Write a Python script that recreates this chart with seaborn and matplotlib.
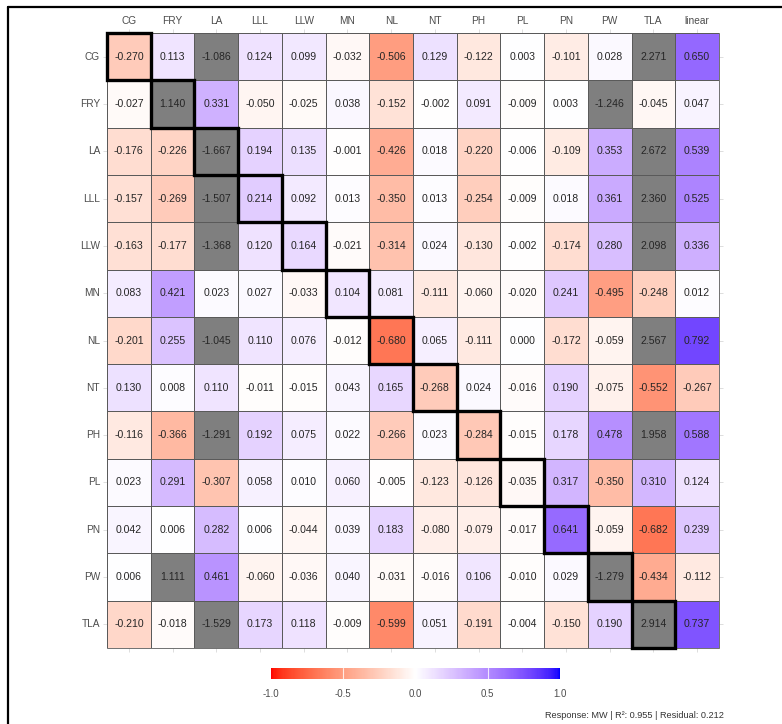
import numpy as np
import pandas as pd
import matplotlib
matplotlib.use("Agg")
import matplotlib.pyplot as plt
import seaborn as sns
from matplotlib.colors import ListedColormap
from matplotlib.patches import Rectangle
from matplotlib.lines import Line2D

row_labels = ["CG", "FRY", "LA", "LLL", "LLW", "MN", "NL", "NT", "PH", "PL", "PN", "PW", "TLA"]
col_labels = ["CG", "FRY", "LA", "LLL", "LLW", "MN", "NL", "NT", "PH", "PL", "PN", "PW", "TLA", "linear"]

row_CG  = [-0.270, 0.113, -1.086, 0.124, 0.099, -0.032, -0.506, 0.129, -0.122, 0.003, -0.101, 0.028, 2.271, 0.650]
row_FRY = [-0.027, 1.140, 0.331, -0.050, -0.025, 0.038, -0.152, -0.002, 0.091, -0.009, 0.003, -1.246, -0.045, 0.047]
row_LA  = [-0.176, -0.226, -1.667, 0.194, 0.135, -0.001, -0.426, 0.018, -0.220, -0.006, -0.109, 0.353, 2.672, 0.539]
row_LLL = [-0.157, -0.269, -1.507, 0.214, 0.092, 0.013, -0.350, 0.013, -0.254, -0.009, 0.018, 0.361, 2.360, 0.525]
row_LLW = [-0.163, -0.177, -1.368, 0.120, 0.164, -0.021, -0.314, 0.024, -0.130, -0.002, -0.174, 0.280, 2.098, 0.336]
row_MN  = [0.083, 0.421, 0.023, 0.027, -0.033, 0.104, 0.081, -0.111, -0.060, -0.020, 0.241, -0.495, -0.248, 0.012]
row_NL  = [-0.201, 0.255, -1.045, 0.110, 0.076, -0.012, -0.680, 0.065, -0.111, 0.000, -0.172, -0.059, 2.567, 0.792]
row_NT  = [0.130, 0.008, 0.110, -0.011, -0.015, 0.043, 0.165, -0.268, 0.024, -0.016, 0.190, -0.075, -0.552, -0.267]
row_PH  = [-0.116, -0.366, -1.291, 0.192, 0.075, 0.022, -0.266, 0.023, -0.284, -0.015, 0.178, 0.478, 1.958, 0.588]
row_PL  = [0.023, 0.291, -0.307, 0.058, 0.010, 0.060, -0.005, -0.123, -0.126, -0.035, 0.317, -0.350, 0.310, 0.124]
row_PN  = [0.042, 0.006, 0.282, 0.006, -0.044, 0.039, 0.183, -0.080, -0.079, -0.017, 0.641, -0.059, -0.682, 0.239]
row_PW  = [0.006, 1.111, 0.461, -0.060, -0.036, 0.040, -0.031, -0.016, 0.106, -0.010, 0.029, -1.279, -0.434, -0.112]
row_TLA = [-0.210, -0.018, -1.529, 0.173, 0.118, -0.009, -0.599, 0.051, -0.191, -0.004, -0.150, 0.190, 2.914, 0.737]

cbar_ticks = [-1.0, -0.5, 0.0, 0.5, 1.0]
caption = "Response: MW | R\u00b2: 0.955 | Residual: 0.212"

rows = [row_CG, row_FRY, row_LA, row_LLL, row_LLW, row_MN, row_NL, row_NT,
        row_PH, row_PL, row_PN, row_PW, row_TLA]
df = pd.DataFrame(rows, index=row_labels, columns=col_labels)
annot = df.map(lambda v: f"{v:.3f}")

# --- Lab-space diverging colormap (red - white - blue), like ggplot gradient2
def srgb_to_lab(rgb):
    rgb = np.asarray(rgb, float)
    lin = np.where(rgb <= 0.04045, rgb / 12.92, ((rgb + 0.055) / 1.055) ** 2.4)
    M = np.array([[0.4124564, 0.3575761, 0.1804375],
                  [0.2126729, 0.7151522, 0.0721750],
                  [0.0193339, 0.1191920, 0.9503041]])
    xyz = lin @ M.T
    wp = np.array([0.95047, 1.0, 1.08883])
    t = xyz / wp
    f = np.where(t > (6 / 29) ** 3, np.cbrt(t), t / (3 * (6 / 29) ** 2) + 4 / 29)
    L = 116 * f[..., 1] - 16
    a = 500 * (f[..., 0] - f[..., 1])
    b = 200 * (f[..., 1] - f[..., 2])
    return np.stack([L, a, b], -1)

def lab_to_srgb(lab):
    L, a, b = lab[..., 0], lab[..., 1], lab[..., 2]
    fy = (L + 16) / 116
    fx = fy + a / 500
    fz = fy - b / 200
    def finv(f):
        return np.where(f > 6 / 29, f ** 3, 3 * (6 / 29) ** 2 * (f - 4 / 29))
    wp = np.array([0.95047, 1.0, 1.08883])
    xyz = np.stack([finv(fx), finv(fy), finv(fz)], -1) * wp
    Minv = np.array([[3.2404542, -1.5371385, -0.4985314],
                     [-0.9692660, 1.8760108, 0.0415560],
                     [0.0556434, -0.2040259, 1.0572252]])
    lin = np.clip(xyz @ Minv.T, 0, 1)
    rgb = np.where(lin <= 0.0031308, 12.92 * lin, 1.055 * lin ** (1 / 2.4) - 0.055)
    return np.clip(rgb, 0, 1)

lab_red = srgb_to_lab([1, 0, 0])
lab_white = srgb_to_lab([1, 1, 1])
lab_blue = srgb_to_lab([0, 0, 1])
n = 256
tt = np.linspace(0, 1, n)
cols = []
for t in tt:
    if t < 0.5:
        s = t / 0.5
        lab = lab_red + (lab_white - lab_red) * s
    else:
        s = (t - 0.5) / 0.5
        lab = lab_white + (lab_blue - lab_white) * s
    cols.append(lab_to_srgb(lab))
cmap = ListedColormap(np.array(cols))
cmap.set_over("#7f7f7f")
cmap.set_under("#7f7f7f")

sns.set_theme(style="white")
plt.rcParams["font.family"] = ["Liberation Sans", "DejaVu Sans"]

W, H = 782, 724
fig = plt.figure(figsize=(W / 100, H / 100), dpi=100)
fig.patch.set_facecolor("white")

x0, x1, y0, y1 = 107, 719, 33, 648
ax = fig.add_axes([x0 / W, 1 - y1 / H, (x1 - x0) / W, (y1 - y0) / H])
cx0, cx1, cy0, cy1 = 271, 560, 668, 679
cax = fig.add_axes([cx0 / W, 1 - cy1 / H, (cx1 - cx0) / W, (cy1 - cy0) / H])

sns.heatmap(df, ax=ax, cmap=cmap, vmin=-1, vmax=1, annot=annot, fmt="",
            annot_kws={"size": 7.6, "color": "#262626"},
            linewidths=0.5, linecolor="#5a5a5a", square=False,
            cbar=True, cbar_ax=cax,
            cbar_kws={"orientation": "horizontal", "ticks": cbar_ticks, "extend": "neither"})

# outer frame of heatmap
ax.add_patch(Rectangle((0, 0), len(col_labels), len(row_labels), fill=False,
                       ec="#5a5a5a", lw=0.6, clip_on=False, zorder=3))
# diagonal highlight boxes
for i in range(len(row_labels)):
    ax.add_patch(Rectangle((i, i), 1, 1, fill=False, ec="black", lw=2.4,
                           clip_on=False, zorder=4))

ax.xaxis.tick_top()
ax.set_xlabel("")
ax.set_ylabel("")
ax.tick_params(axis="x", top=True, bottom=True, labeltop=True, labelbottom=False,
               length=3, width=0.6, color="#d8d8d8", pad=2, labelsize=7.3,
               labelcolor="#4d4d4d", rotation=0)
ax.tick_params(axis="y", left=True, right=True, labelleft=True, labelright=False,
               length=3, width=0.6, color="#d8d8d8", pad=2, labelsize=7.3,
               labelcolor="#4d4d4d", rotation=0)

cbar = ax.collections[0].colorbar
cbar.outline.set_visible(False)
cbar.ax.tick_params(length=0, labelsize=7, labelcolor="#4d4d4d", pad=7)
cbar.ax.set_xticklabels([f"{t:.1f}" for t in cbar_ticks])
for t in cbar_ticks[1:-1]:
    cbar.ax.axvline(t, color="white", lw=0.8, alpha=0.8)

fig.text(724 / W, 1 - 715 / H, caption, ha="right", va="center",
         fontsize=6.6, color="#333333")

# page frame (left and top edges)
fig.add_artist(Line2D([8 / W, 8 / W], [0, 1 - 7 / H], transform=fig.transFigure,
                      color="black", lw=1.6))
fig.add_artist(Line2D([8 / W, 1], [1 - 7 / H, 1 - 7 / H], transform=fig.transFigure,
                      color="black", lw=1.6))

fig.savefig("out.png", dpi=100, facecolor="white")
